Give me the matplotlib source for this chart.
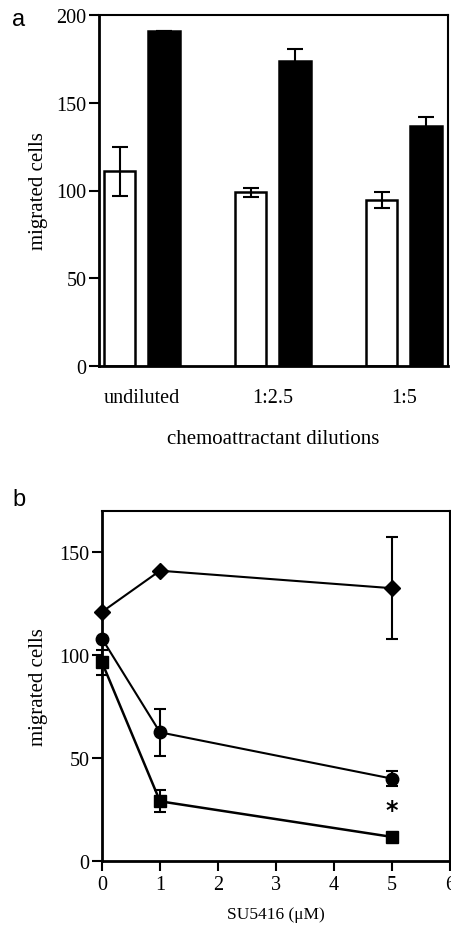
import matplotlib
matplotlib.use("Agg")
import matplotlib.pyplot as plt
import numpy as np

# ---- Panel a data ----
dilutions = ["undiluted", "1:2.5", "1:5"]
white_vals = [111, 99, 94.5]
white_err = [14, 2.5, 4.5]
black_vals = [191, 174, 137]
black_err = [0, 6.5, 5]

# ---- Panel b data ----
su_conc = [0, 1, 5]
diamond_vals = [121, 141, 132.5]
diamond_err = [0, 0, 24.7]
circle_vals = [108, 62.5, 40]
circle_err = [0, 11.5, 3.7]
square_vals = [96.5, 29, 11.7]
square_err = [6, 5.3, 0]
star_pos = (5, 25)

plt.rcParams['font.family'] = ['Liberation Serif', 'DejaVu Serif']
plt.rcParams['mathtext.fontset'] = 'stix'

W, H = 452, 928
fig = plt.figure(figsize=(W / 100, H / 100), dpi=100)

def ax_px(left, top, right, bottom):
    return fig.add_axes([left / W, 1 - bottom / H, (right - left) / W, (bottom - top) / H])

# ---------------- Panel a ----------------
axa = ax_px(99, 16, 448, 367)
x = np.arange(len(dilutions))
bw = 0.237
off = 0.168
axa.bar(x - off, white_vals, bw, color='white', edgecolor='black', linewidth=1.8, zorder=2)
axa.bar(x + off, black_vals, bw, color='black', edgecolor='black', linewidth=1.8, zorder=2)
axa.errorbar(x - off, white_vals, yerr=white_err, fmt='none', ecolor='black',
             elinewidth=1.5, capsize=5.8, capthick=1.5, zorder=3)
axa.errorbar(x + off, black_vals, yerr=black_err, fmt='none', ecolor='black',
             elinewidth=1.5, capsize=5.8, capthick=1.5, zorder=3)
axa.set_xlim(-0.328, 2.336)
axa.set_ylim(0, 200)
axa.set_yticks([0, 50, 100, 150, 200])
axa.set_xticks(x)
axa.set_xticklabels(dilutions)
axa.tick_params(axis='x', length=0, pad=16, labelsize=14.5)
axa.tick_params(axis='y', direction='out', length=7, width=1.5, pad=2, labelsize=14.5)
for s in axa.spines.values():
    s.set_linewidth(1.5)
axa.spines['left'].set_linewidth(2)
axa.spines['bottom'].set_linewidth(2)
axa.set_ylabel("migrated cells", fontsize=15, labelpad=6)
axa.set_xlabel("chemoattractant dilutions", fontsize=15, labelpad=16)
fig.text(19 / W, 1 - 20 / H, "a", fontsize=17, family=['Liberation Sans', 'DejaVu Sans'],
         ha='center', va='center')

# ---------------- Panel b ----------------
axb = ax_px(102, 512, 450, 862)
msz = 9
axb.errorbar(su_conc, diamond_vals, yerr=diamond_err, color='black', marker='D', markersize=msz * 0.85,
             linewidth=1.5, elinewidth=1.5, capsize=4.3, capthick=1.5, zorder=3, clip_on=False)
axb.errorbar(su_conc, circle_vals, yerr=circle_err, color='black', marker='o', markersize=msz,
             linewidth=1.5, elinewidth=1.5, capsize=4.3, capthick=1.5, zorder=3, clip_on=False)
axb.errorbar(su_conc, square_vals, yerr=square_err, color='black', marker='s', markersize=msz,
             linewidth=1.8, elinewidth=1.5, capsize=4.3, capthick=1.5, zorder=3, clip_on=False)
axb.text(star_pos[0], star_pos[1], "*", fontsize=17, ha='center', va='center',
         family=['DejaVu Sans'], fontweight='bold')
axb.set_xlim(0, 6)
axb.set_ylim(0, 170)
axb.set_xticks(range(0, 7))
axb.set_yticks([0, 50, 100, 150])
axb.tick_params(axis='both', direction='out', length=7, width=1.5, labelsize=14.5)
axb.tick_params(axis='x', pad=3)
axb.tick_params(axis='y', pad=2)
for s in axb.spines.values():
    s.set_linewidth(1.5)
axb.spines['left'].set_linewidth(2)
axb.spines['bottom'].set_linewidth(2)
axb.set_ylabel("migrated cells", fontsize=15, labelpad=8)
axb.set_xlabel("SU5416 (μM)", fontsize=12.5, labelpad=9)
fig.text(19 / W, 1 - 500 / H, "b", fontsize=17, family=['Liberation Sans', 'DejaVu Sans'],
         ha='center', va='center')

fig.savefig("out.png", dpi=100)
